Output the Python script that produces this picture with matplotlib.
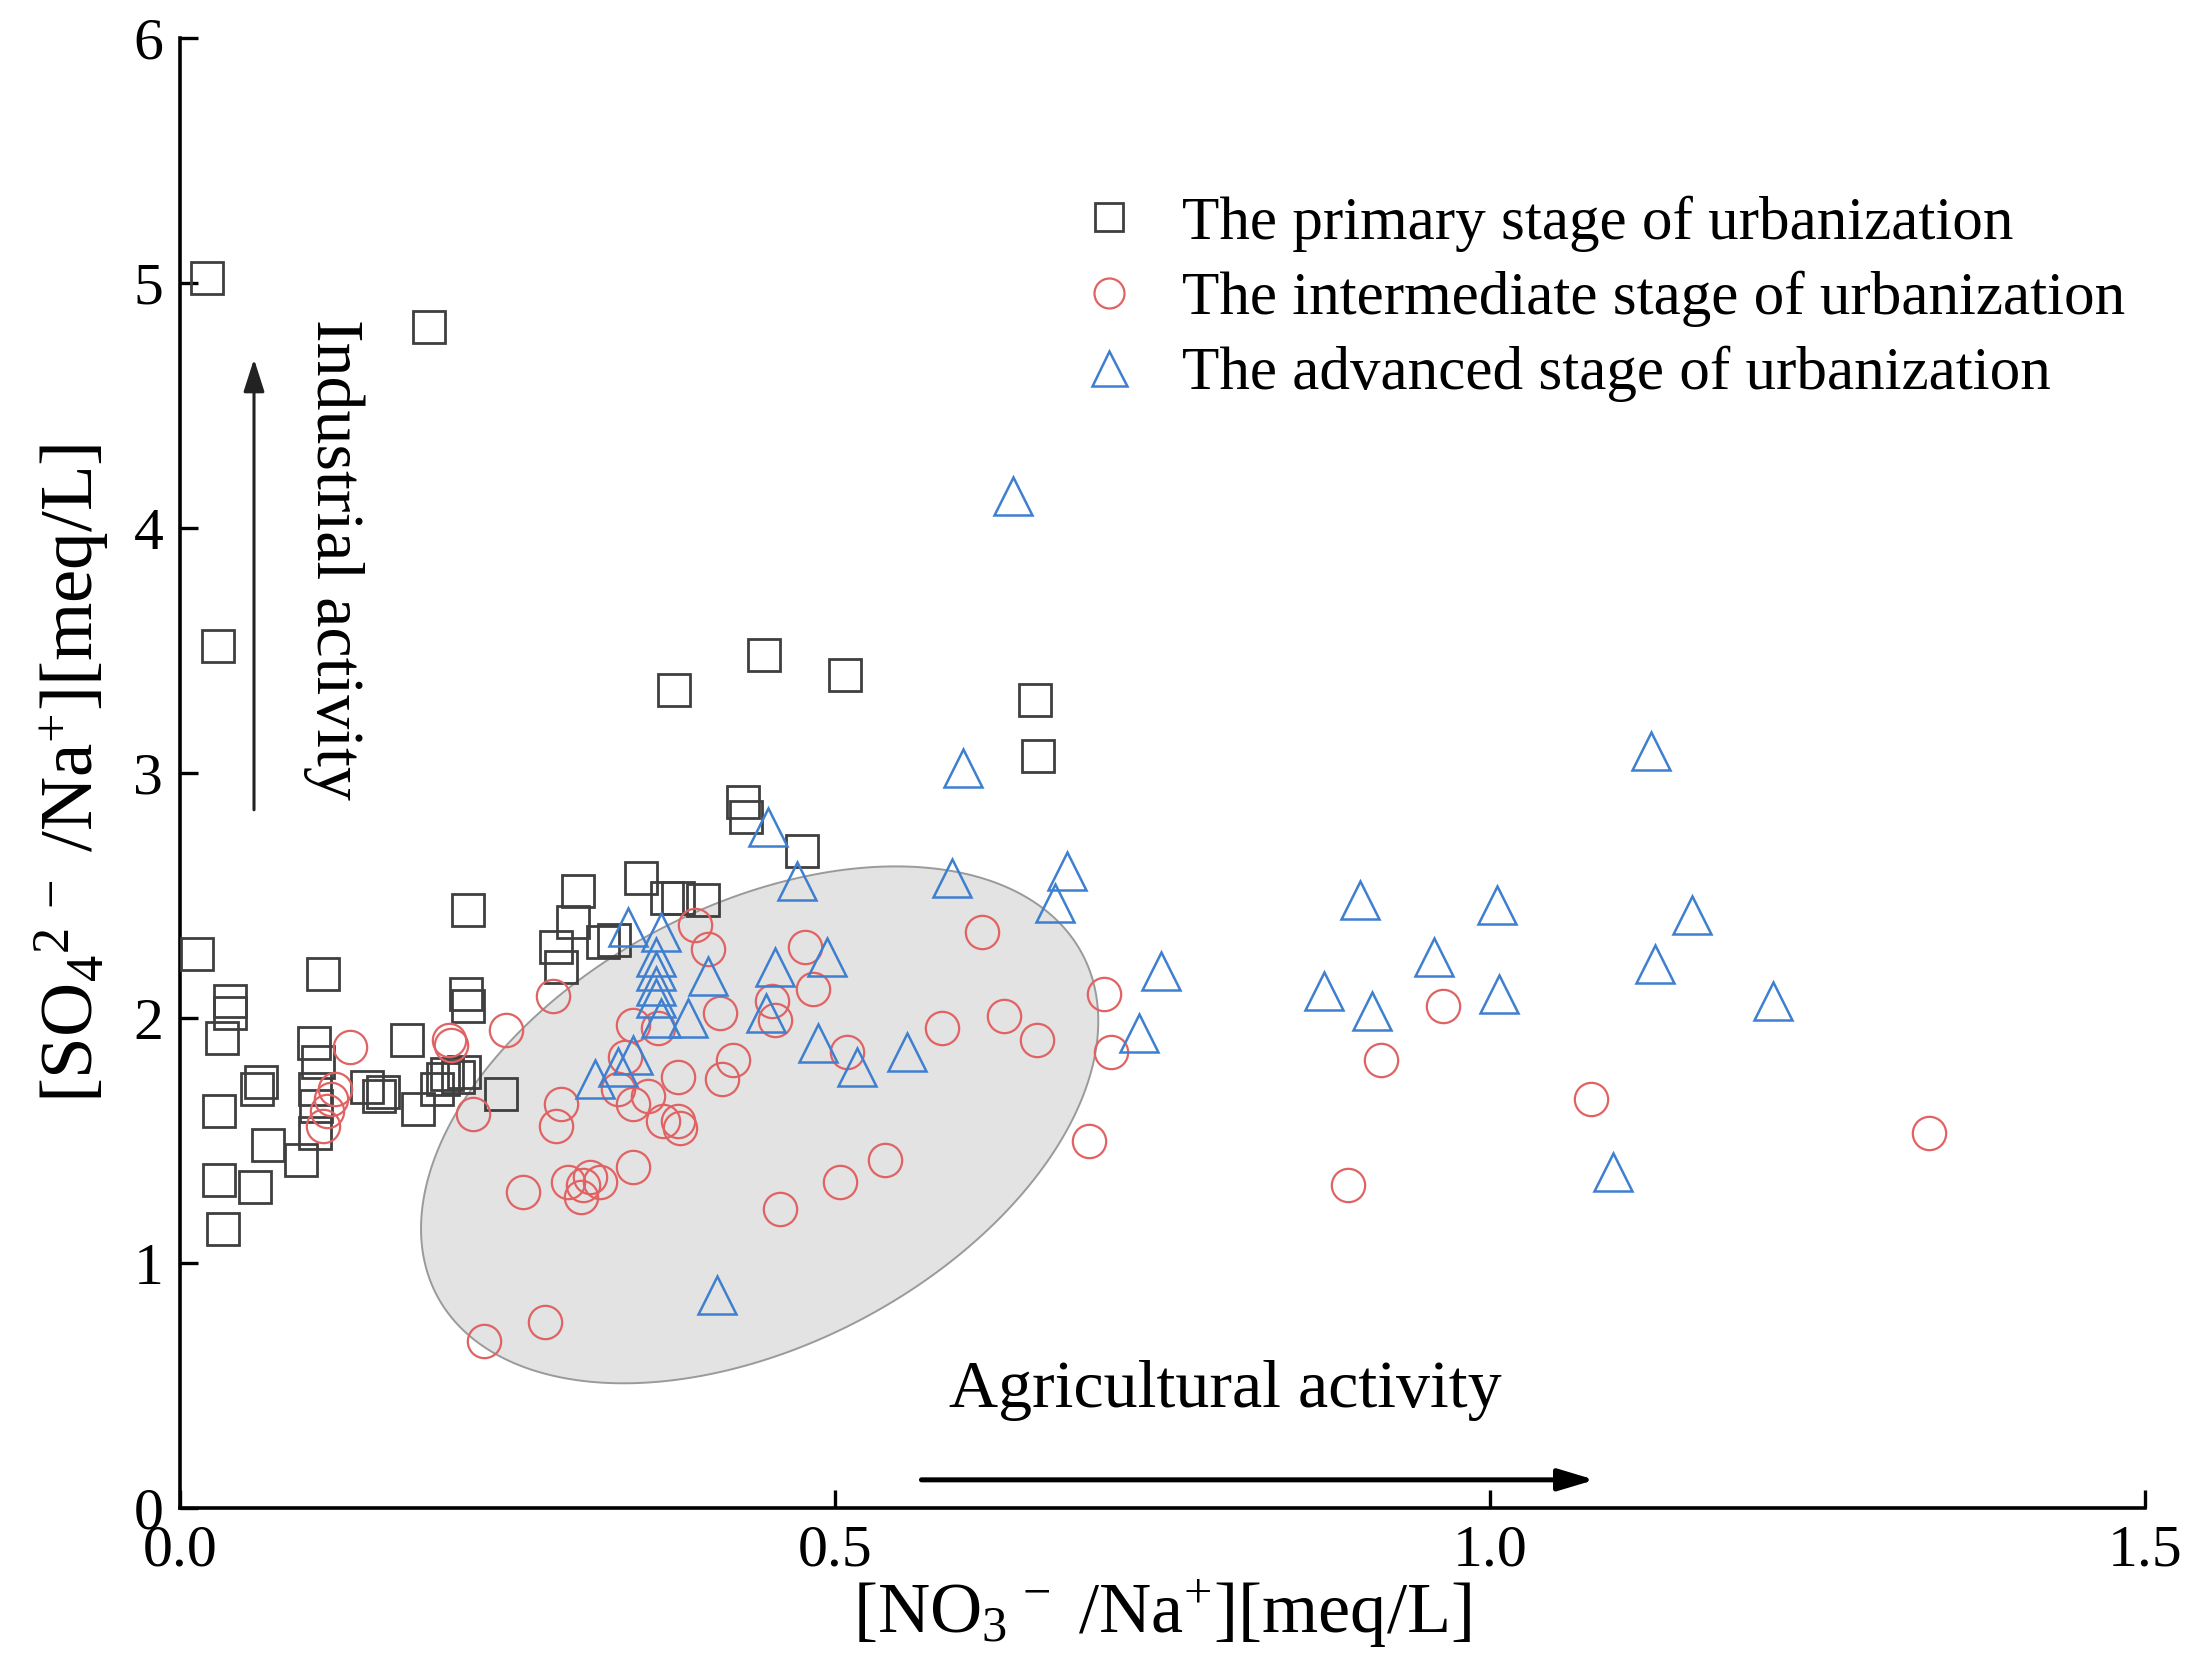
import numpy as np
import matplotlib
matplotlib.use('Agg')
import matplotlib.pyplot as plt

plt.rcParams['font.family'] = ['Liberation Serif', 'DejaVu Serif']
plt.rcParams['mathtext.fontset'] = 'custom'
plt.rcParams['mathtext.rm'] = 'Liberation Serif'
plt.rcParams['mathtext.it'] = 'Liberation Serif:italic'

# primary stage (squares)
primary_x = [0.021, 0.029, 0.190, 0.013, 0.038, 0.038, 0.032, 0.030, 0.030, 0.033,
             0.057, 0.059, 0.062, 0.067, 0.092, 0.102, 0.105, 0.103, 0.104, 0.103,
             0.109, 0.143, 0.155, 0.152, 0.173, 0.182, 0.196, 0.201, 0.204, 0.217,
             0.218, 0.220, 0.220, 0.245, 0.287, 0.291, 0.300, 0.304, 0.323, 0.331,
             0.352, 0.372, 0.380, 0.399, 0.377, 0.430, 0.432, 0.446, 0.475, 0.508,
             0.653, 0.655, 0.212]
primary_y = [5.02, 3.52, 4.82, 2.26, 2.07, 2.02, 1.92, 1.62, 1.34, 1.14,
             1.31, 1.71, 1.74, 1.48, 1.42, 1.90, 1.82, 1.71, 1.64, 1.53,
             2.18, 1.72, 1.70, 1.68, 1.91, 1.63, 1.71, 1.75, 1.77, 1.78,
             2.10, 2.05, 2.44, 1.69, 2.29, 2.21, 2.39, 2.52, 2.31, 2.32,
             2.57, 2.49, 2.49, 2.48, 3.34, 2.88, 2.82, 3.48, 2.68, 3.40,
             3.30, 3.07, 1.76]

# intermediate stage (circles)
inter_x = [0.130, 0.118, 0.115, 0.112, 0.109, 0.205, 0.207, 0.249, 0.285, 0.224,
           0.291, 0.287, 0.262, 0.296, 0.308, 0.313, 0.306, 0.321, 0.346, 0.279,
           0.232, 0.393, 0.403, 0.477, 0.612, 0.483, 0.705, 0.412, 0.452, 0.454,
           0.346, 0.365, 0.582, 0.629, 0.654, 0.711, 0.509, 0.422, 0.414, 0.380,
           0.334, 0.346, 0.357, 0.369, 0.380, 0.382, 0.458, 0.504, 0.538, 0.694,
           0.964, 0.917, 0.892, 1.077, 1.335, 0.340]
inter_y = [1.88, 1.71, 1.67, 1.62, 1.56, 1.91, 1.89, 1.95, 2.09, 1.61,
           1.65, 1.56, 1.29, 1.33, 1.32, 1.35, 1.27, 1.33, 1.39, 0.76,
           0.68, 2.38, 2.28, 2.29, 2.35, 2.12, 2.10, 2.02, 2.07, 1.99,
           1.97, 1.96, 1.96, 2.01, 1.91, 1.86, 1.86, 1.83, 1.75, 1.76,
           1.71, 1.65, 1.68, 1.58, 1.58, 1.55, 1.22, 1.33, 1.42, 1.50,
           2.05, 1.83, 1.32, 1.67, 1.53, 1.84]

# advanced stage (triangles)
adv_x = [0.636, 0.598, 1.123, 0.449, 0.471, 0.589, 0.677, 0.668, 0.749, 0.732,
         0.342, 0.367, 0.363, 0.363, 0.363, 0.363, 0.403, 0.454, 0.494, 0.367,
         0.388, 0.447, 0.487, 0.517, 0.555, 0.346, 0.334, 0.317, 0.410, 0.873,
         0.901, 0.910, 0.957, 1.005, 1.007, 1.126, 1.154, 1.216, 1.094]
adv_y = [4.13, 3.02, 3.09, 2.78, 2.56, 2.57, 2.60, 2.47, 2.19, 1.94,
         2.37, 2.35, 2.25, 2.19, 2.13, 2.08, 2.17, 2.21, 2.25, 2.00,
         2.00, 2.02, 1.90, 1.80, 1.86, 1.85, 1.80, 1.75, 0.87, 2.11,
         2.48, 2.03, 2.25, 2.46, 2.10, 2.22, 2.42, 2.07, 1.37]

labels = ['The primary stage of urbanization',
          'The intermediate stage of urbanization',
          'The advanced stage of urbanization']

# shaded ellipse (centre and conjugate semi-axes, data units)
ell_c = (0.4425, 1.564)
ell_u = (0.2585, 0.424)
ell_v = (0.0, 0.966)

fig = plt.figure(figsize=(10.975, 8.35), dpi=200)
ax = fig.add_axes([0.082, 0.097, 0.8952, 0.8802])

t = np.linspace(0, 2 * np.pi, 400)
ex = ell_c[0] + ell_u[0] * np.cos(t) + ell_v[0] * np.sin(t)
ey = ell_c[1] + ell_u[1] * np.cos(t) + ell_v[1] * np.sin(t)
ax.fill(ex, ey, facecolor='#e3e3e3', edgecolor='#9a9a9a', linewidth=0.7, zorder=1)

ax.plot(primary_x, primary_y, 's', ms=11.5, mfc='none', mec='#3f3f3f', mew=1.0,
        label=labels[0], zorder=3)
ax.plot(inter_x, inter_y, 'o', ms=12.0, mfc='none', mec='#e06262', mew=0.8,
        label=labels[1], zorder=3)
ax.plot(adv_x, adv_y, '^', ms=14.0, mfc='none', mec='#3f7fd0', mew=0.9,
        label=labels[2], zorder=3)

ax.set_xlim(0, 1.5)
ax.set_ylim(0, 6)
ax.set_xticks([0.0, 0.5, 1.0, 1.5])
ax.set_xticklabels(['0.0', '0.5', '1.0', '1.5'])
ax.set_yticks(range(0, 7))
ax.spines['top'].set_visible(False)
ax.spines['right'].set_visible(False)
for s in ['left', 'bottom']:
    ax.spines[s].set_linewidth(1.3)
ax.tick_params(direction='in', length=6.5, width=1.2, labelsize=21.5, pad=6)

ax.set_xlabel(r'[NO$_3$$^{\,-}$ /Na$^{+}$][meq/L]', fontsize=26, labelpad=0)
ax.set_ylabel(r'[SO$_4$$^{2\;-}$ /Na$^{+}$][meq/L]', fontsize=27, labelpad=8)

# activity arrows
ax.annotate('', xy=(0.0565, 4.69), xytext=(0.0565, 2.85),
            arrowprops=dict(arrowstyle='-|>,head_length=1.0,head_width=0.32',
                            color='#222222', lw=1.1, shrinkA=0, shrinkB=0))
ax.text(0.117, 3.87, 'Industrial activity', rotation=270, fontsize=24.5,
        ha='center', va='center')
ax.annotate('', xy=(1.08, 0.115), xytext=(0.566, 0.115),
            arrowprops=dict(arrowstyle='-|>,head_length=1.1,head_width=0.33',
                            color='black', lw=1.8, shrinkA=0, shrinkB=0))
ax.text(0.798, 0.48, 'Agricultural activity', fontsize=24.5, ha='center', va='center')

ax.legend(loc='upper left', bbox_to_anchor=(0.457, 0.893), frameon=False,
          fontsize=22, markerscale=0.9, handlelength=1.0, handletextpad=0.7,
          borderpad=0, borderaxespad=0, labelspacing=0.31)

fig.savefig('out.png', dpi=200)
